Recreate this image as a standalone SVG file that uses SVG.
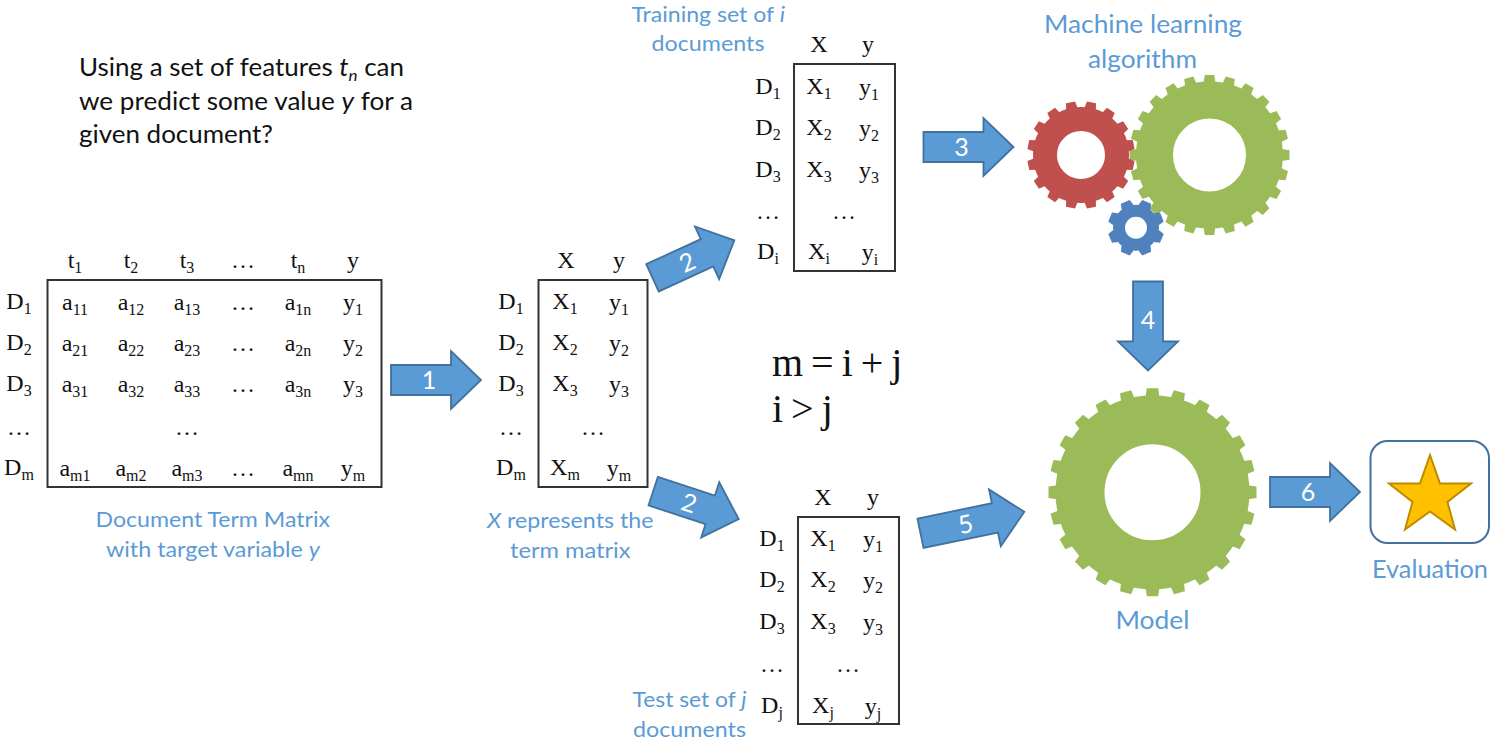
<svg xmlns="http://www.w3.org/2000/svg" width="1491" height="747" viewBox="0 0 1491 747">
<style>
text{font-family:"Liberation Serif","Times New Roman",serif;fill:#111;font-size:24px}
.c{text-anchor:middle}
.s{font-size:16px}
.box{fill:none;stroke:#333;stroke-width:2}
.l{font-family:Lato,"Noto Sans",sans-serif;fill:#5B9BD5;font-size:22px}
.lg{font-family:Lato,"Noto Sans",sans-serif;fill:#5B9BD5;font-size:24.5px}
.q{font-family:Lato,"Noto Sans",sans-serif;fill:#111;font-size:24.5px}
.big{font-size:40px;word-spacing:-2px}
.i{font-style:italic}
.arrow{fill:#5B9BD5;stroke:#41719C;stroke-width:1.8}
.n{font-family:Lato,"Noto Sans",sans-serif;fill:#fff;font-size:25px;text-anchor:middle}
.ring{fill:none}
.green{fill:#9BBB59}.red{fill:#C0504D}.blue{fill:#4F81BD}
.green .ring{stroke:#9BBB59}.red .ring{stroke:#C0504D}.blue .ring{stroke:#4F81BD}
</style>

<defs>
<polygon id="ar" points="0,-15 60,-15 60,-29 90,0 60,29 60,15 0,15"/>
<polygon id="tm" points="-7,-95 -5.7,-104 5.7,-104 7,-95"/>
<polygon id="tg" points="-6,-72 -4.7,-80 4.7,-80 6,-72"/>
<polygon id="tr" points="-5.8,-47 -4.6,-53.7 4.6,-53.7 5.8,-47"/>
<polygon id="tb" points="-6.5,-22 -4.8,-28 4.8,-28 6.5,-22"/>
</defs>

<g id="question">
<text class="q" x="79" y="76" textLength="325" lengthAdjust="spacingAndGlyphs">Using a set of features <tspan class="i">t</tspan><tspan class="i" font-size="16" style="font-size:16px" dy="5">n</tspan><tspan dy="-5"> can</tspan></text>
<text class="q" x="79" y="109.5" textLength="334" lengthAdjust="spacingAndGlyphs">we predict some value <tspan class="i">y</tspan> for a</text>
<text class="q" x="79" y="143" textLength="194" lengthAdjust="spacingAndGlyphs">given document?</text>
</g>

<g id="document-term-matrix">
<rect class="box" x="47.5" y="280" width="334" height="207"/>
<text class="c" x="75" y="268">t<tspan class="s" dy="5">1</tspan></text>
<text class="c" x="131" y="268">t<tspan class="s" dy="5">2</tspan></text>
<text class="c" x="187" y="268">t<tspan class="s" dy="5">3</tspan></text>
<text class="c" x="243" y="268">…</text>
<text class="c" x="298" y="268">t<tspan class="s" dy="5">n</tspan></text>
<text class="c" x="353" y="268">y</text>

<text class="c" x="19" y="309">D<tspan class="s" dy="5">1</tspan></text>
<text class="c" x="75" y="310">a<tspan class="s" dy="5">11</tspan></text>
<text class="c" x="131" y="310">a<tspan class="s" dy="5">12</tspan></text>
<text class="c" x="187" y="310">a<tspan class="s" dy="5">13</tspan></text>
<text class="c" x="243" y="310">…</text>
<text class="c" x="298" y="310">a<tspan class="s" dy="5">1n</tspan></text>
<text class="c" x="353" y="310">y<tspan class="s" dy="5">1</tspan></text>

<text class="c" x="19" y="350">D<tspan class="s" dy="5">2</tspan></text>
<text class="c" x="75" y="351">a<tspan class="s" dy="5">21</tspan></text>
<text class="c" x="131" y="351">a<tspan class="s" dy="5">22</tspan></text>
<text class="c" x="187" y="351">a<tspan class="s" dy="5">23</tspan></text>
<text class="c" x="243" y="351">…</text>
<text class="c" x="298" y="351">a<tspan class="s" dy="5">2n</tspan></text>
<text class="c" x="353" y="351">y<tspan class="s" dy="5">2</tspan></text>

<text class="c" x="19" y="391">D<tspan class="s" dy="5">3</tspan></text>
<text class="c" x="75" y="392">a<tspan class="s" dy="5">31</tspan></text>
<text class="c" x="131" y="392">a<tspan class="s" dy="5">32</tspan></text>
<text class="c" x="187" y="392">a<tspan class="s" dy="5">33</tspan></text>
<text class="c" x="243" y="392">…</text>
<text class="c" x="298" y="392">a<tspan class="s" dy="5">3n</tspan></text>
<text class="c" x="353" y="392">y<tspan class="s" dy="5">3</tspan></text>

<text class="c" x="19" y="435">…</text>
<text class="c" x="187" y="435">…</text>

<text class="c" x="19" y="475">D<tspan class="s" dy="5">m</tspan></text>
<text class="c" x="75" y="476">a<tspan class="s" dy="5">m1</tspan></text>
<text class="c" x="131" y="476">a<tspan class="s" dy="5">m2</tspan></text>
<text class="c" x="187" y="476">a<tspan class="s" dy="5">m3</tspan></text>
<text class="c" x="243" y="476">…</text>
<text class="c" x="298" y="476">a<tspan class="s" dy="5">mn</tspan></text>
<text class="c" x="353" y="476">y<tspan class="s" dy="5">m</tspan></text>
<text class="l" x="95.5" y="527" textLength="234.5" lengthAdjust="spacingAndGlyphs">Document Term Matrix</text>
<text class="l" x="106" y="557" textLength="214" lengthAdjust="spacingAndGlyphs">with target variable <tspan class="i">y</tspan></text>
</g>

<g id="xy-matrix">
<rect class="box" x="538.5" y="280" width="109" height="207"/>
<text class="c" x="566" y="268">X</text><text class="c" x="619" y="268">y</text>
<text class="c" x="511" y="309">D<tspan class="s" dy="5">1</tspan></text><text class="c" x="565" y="309">X<tspan class="s" dy="5">1</tspan></text><text class="c" x="619" y="310">y<tspan class="s" dy="5">1</tspan></text>
<text class="c" x="511" y="350">D<tspan class="s" dy="5">2</tspan></text><text class="c" x="565" y="350">X<tspan class="s" dy="5">2</tspan></text><text class="c" x="619" y="351">y<tspan class="s" dy="5">2</tspan></text>
<text class="c" x="511" y="391">D<tspan class="s" dy="5">3</tspan></text><text class="c" x="565" y="391">X<tspan class="s" dy="5">3</tspan></text><text class="c" x="619" y="392">y<tspan class="s" dy="5">3</tspan></text>
<text class="c" x="511" y="435">…</text><text class="c" x="593" y="435">…</text>
<text class="c" x="511" y="475">D<tspan class="s" dy="5">m</tspan></text><text class="c" x="565" y="475">X<tspan class="s" dy="5">m</tspan></text><text class="c" x="619" y="476">y<tspan class="s" dy="5">m</tspan></text>
<text class="l" x="487" y="528" textLength="166.5" lengthAdjust="spacingAndGlyphs"><tspan class="i">X</tspan> represents the</text>
<text class="l" x="510" y="558" textLength="120.5" lengthAdjust="spacingAndGlyphs">term matrix</text>
</g>

<g id="training-set">
<rect class="box" x="794" y="64" width="101" height="207"/>
<text class="c" x="819" y="52">X</text><text class="c" x="868" y="52">y</text>
<text class="c" x="768" y="94">D<tspan class="s" dy="5">1</tspan></text><text class="c" x="819" y="94">X<tspan class="s" dy="5">1</tspan></text><text class="c" x="869" y="95">y<tspan class="s" dy="5">1</tspan></text>
<text class="c" x="768" y="135">D<tspan class="s" dy="5">2</tspan></text><text class="c" x="819" y="135">X<tspan class="s" dy="5">2</tspan></text><text class="c" x="869" y="136">y<tspan class="s" dy="5">2</tspan></text>
<text class="c" x="768" y="177">D<tspan class="s" dy="5">3</tspan></text><text class="c" x="819" y="177">X<tspan class="s" dy="5">3</tspan></text><text class="c" x="869" y="178">y<tspan class="s" dy="5">3</tspan></text>
<text class="c" x="768" y="219">…</text><text class="c" x="844" y="219">…</text>
<text class="c" x="768" y="259">D<tspan class="s" dy="5">i</tspan></text><text class="c" x="819" y="259">X<tspan class="s" dy="5">i</tspan></text><text class="c" x="870" y="260">y<tspan class="s" dy="5">i</tspan></text>
<text class="l" x="631.5" y="22" textLength="153.5" lengthAdjust="spacingAndGlyphs">Training set of <tspan class="i">i</tspan></text>
<text class="l" x="651.5" y="51" textLength="113" lengthAdjust="spacingAndGlyphs">documents</text>
</g>

<g id="test-set">
<rect class="box" x="798" y="517" width="101" height="207"/>
<text class="c" x="823" y="505">X</text><text class="c" x="873" y="505">y</text>
<text class="c" x="772" y="546">D<tspan class="s" dy="5">1</tspan></text><text class="c" x="823" y="546">X<tspan class="s" dy="5">1</tspan></text><text class="c" x="873" y="547">y<tspan class="s" dy="5">1</tspan></text>
<text class="c" x="772" y="587">D<tspan class="s" dy="5">2</tspan></text><text class="c" x="823" y="587">X<tspan class="s" dy="5">2</tspan></text><text class="c" x="873" y="588">y<tspan class="s" dy="5">2</tspan></text>
<text class="c" x="772" y="629">D<tspan class="s" dy="5">3</tspan></text><text class="c" x="823" y="629">X<tspan class="s" dy="5">3</tspan></text><text class="c" x="873" y="630">y<tspan class="s" dy="5">3</tspan></text>
<text class="c" x="772" y="672">…</text><text class="c" x="848" y="672">…</text>
<text class="c" x="772" y="713">D<tspan class="s" dy="5">j</tspan></text><text class="c" x="823" y="713">X<tspan class="s" dy="5">j</tspan></text><text class="c" x="873" y="714">y<tspan class="s" dy="5">j</tspan></text>
<text class="l" x="632.5" y="707" textLength="114" lengthAdjust="spacingAndGlyphs">Test set of <tspan class="i">j</tspan></text>
<text class="l" x="633" y="737" textLength="113" lengthAdjust="spacingAndGlyphs">documents</text>
</g>

<g id="equation">
<text class="big" x="772" y="376">m = i + j</text>
<text class="big" x="772" y="422">i &gt; j</text>
</g>

<g id="machine-learning-algorithm">
<g class="green" transform="translate(1209.5,155)">
<circle class="ring" r="55" stroke-width="37"/>
<use href="#tg"/><use href="#tg" transform="rotate(15)"/><use href="#tg" transform="rotate(30)"/><use href="#tg" transform="rotate(45)"/><use href="#tg" transform="rotate(60)"/><use href="#tg" transform="rotate(75)"/><use href="#tg" transform="rotate(90)"/><use href="#tg" transform="rotate(105)"/><use href="#tg" transform="rotate(120)"/><use href="#tg" transform="rotate(135)"/><use href="#tg" transform="rotate(150)"/><use href="#tg" transform="rotate(165)"/><use href="#tg" transform="rotate(180)"/><use href="#tg" transform="rotate(195)"/><use href="#tg" transform="rotate(210)"/><use href="#tg" transform="rotate(225)"/><use href="#tg" transform="rotate(240)"/><use href="#tg" transform="rotate(255)"/><use href="#tg" transform="rotate(270)"/><use href="#tg" transform="rotate(285)"/><use href="#tg" transform="rotate(300)"/><use href="#tg" transform="rotate(315)"/><use href="#tg" transform="rotate(330)"/><use href="#tg" transform="rotate(345)"/>
</g>
<g class="red" transform="translate(1081,155)">
<circle class="ring" r="36" stroke-width="24"/>
<use href="#tr" transform="rotate(11.25)"/><use href="#tr" transform="rotate(33.75)"/><use href="#tr" transform="rotate(56.25)"/><use href="#tr" transform="rotate(78.75)"/><use href="#tr" transform="rotate(101.25)"/><use href="#tr" transform="rotate(123.75)"/><use href="#tr" transform="rotate(146.25)"/><use href="#tr" transform="rotate(168.75)"/><use href="#tr" transform="rotate(191.25)"/><use href="#tr" transform="rotate(213.75)"/><use href="#tr" transform="rotate(236.25)"/><use href="#tr" transform="rotate(258.75)"/><use href="#tr" transform="rotate(281.25)"/><use href="#tr" transform="rotate(303.75)"/><use href="#tr" transform="rotate(326.25)"/><use href="#tr" transform="rotate(348.75)"/>
</g>
<g class="blue" transform="translate(1136,227.7)">
<circle class="ring" r="17" stroke-width="12"/>
<use href="#tb" transform="rotate(22.5)"/><use href="#tb" transform="rotate(67.5)"/><use href="#tb" transform="rotate(112.5)"/><use href="#tb" transform="rotate(157.5)"/><use href="#tb" transform="rotate(202.5)"/><use href="#tb" transform="rotate(247.5)"/><use href="#tb" transform="rotate(292.5)"/><use href="#tb" transform="rotate(337.5)"/>
</g>
<text class="lg" x="1044" y="33" textLength="198" lengthAdjust="spacingAndGlyphs">Machine learning</text>
<text class="lg" x="1088" y="68" textLength="109" lengthAdjust="spacingAndGlyphs">algorithm</text>
</g>

<g id="model">
<g class="green" transform="translate(1152.5,492.3)">
<circle class="ring" r="72.5" stroke-width="49"/>
<use href="#tm"/><use href="#tm" transform="rotate(15)"/><use href="#tm" transform="rotate(30)"/><use href="#tm" transform="rotate(45)"/><use href="#tm" transform="rotate(60)"/><use href="#tm" transform="rotate(75)"/><use href="#tm" transform="rotate(90)"/><use href="#tm" transform="rotate(105)"/><use href="#tm" transform="rotate(120)"/><use href="#tm" transform="rotate(135)"/><use href="#tm" transform="rotate(150)"/><use href="#tm" transform="rotate(165)"/><use href="#tm" transform="rotate(180)"/><use href="#tm" transform="rotate(195)"/><use href="#tm" transform="rotate(210)"/><use href="#tm" transform="rotate(225)"/><use href="#tm" transform="rotate(240)"/><use href="#tm" transform="rotate(255)"/><use href="#tm" transform="rotate(270)"/><use href="#tm" transform="rotate(285)"/><use href="#tm" transform="rotate(300)"/><use href="#tm" transform="rotate(315)"/><use href="#tm" transform="rotate(330)"/><use href="#tm" transform="rotate(345)"/>
</g>
<text class="lg" x="1115.5" y="629" textLength="74" lengthAdjust="spacingAndGlyphs">Model</text>
</g>

<g id="evaluation">
<rect x="1370.5" y="441" width="118.5" height="102" rx="17" fill="#fff" stroke="#41719C" stroke-width="2"/>
<polygon points="1430,455 1440,483.5 1471,483.5 1447.5,502 1455,529.5 1430,511.5 1405,529.5 1412.5,502 1389,483.5 1420,483.5" fill="#FFC000" stroke="#BC8C00" stroke-width="2"/>
<text class="lg" x="1372" y="577.5" textLength="116" lengthAdjust="spacingAndGlyphs">Evaluation</text>
</g>

<g id="connectors">
<g transform="translate(391,380)"><use href="#ar" class="arrow"/><text class="n" x="38" y="9">1</text></g>
<g transform="translate(652.5,277.8) rotate(-24.6)"><use href="#ar" class="arrow"/><text class="n" x="38" y="9">2</text></g>
<g transform="translate(653.2,491.2) rotate(18.1)"><use href="#ar" class="arrow"/><text class="n" x="38" y="9">2</text></g>
<g transform="translate(923.5,147)"><use href="#ar" class="arrow"/><text class="n" x="38" y="9">3</text></g>
<g transform="translate(1148,281.5)"><polygon class="arrow" points="-15,0 15,0 15,60 30,60 0,89 -30,60 -15,60"/><text class="n" x="0" y="47.5">4</text></g>
<g transform="translate(920.5,533.3) rotate(-11.7)"><polygon class="arrow" points="0,-15 76,-15 76,-29 106,0 76,29 76,15 0,15"/><text class="n" x="46" y="9">5</text></g>
<g transform="translate(1270,492)"><use href="#ar" class="arrow"/><text class="n" x="38" y="9">6</text></g>
</g>
</svg>
